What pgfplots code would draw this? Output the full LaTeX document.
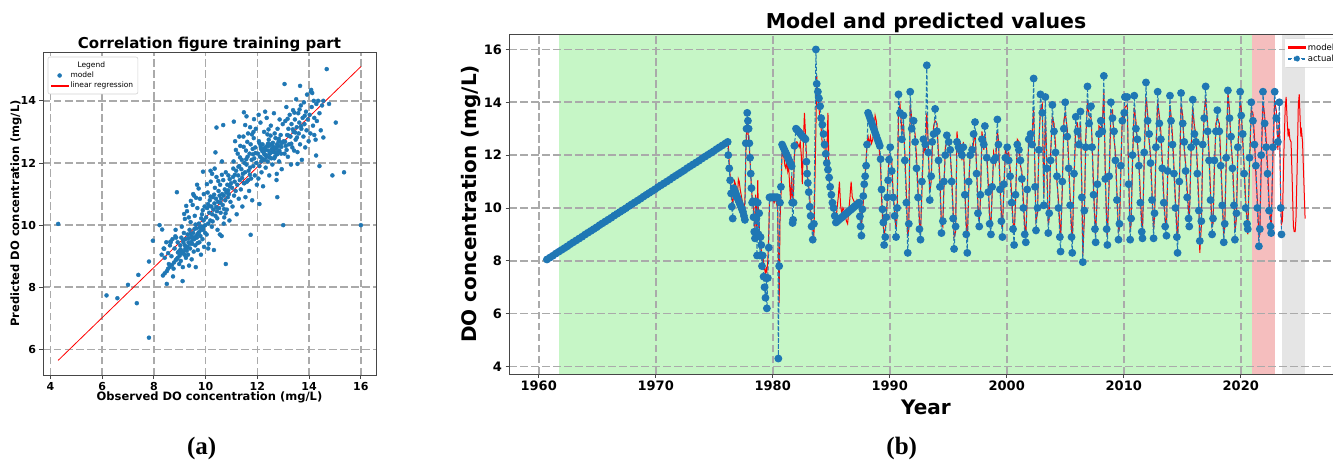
\documentclass[border=0pt]{standalone}
\usepackage{pgfplots}
\pgfplotsset{compat=1.18}
\usepackage{pgfplotstable}
\usepackage{fontspec}
\setmainfont{DejaVu Sans}
\newfontfamily\capfont{Liberation Serif}
\definecolor{mplblue}{RGB}{31,119,180}
\definecolor{mplred}{RGB}{255,0,0}
\definecolor{gridgray}{RGB}{170,170,170}
\definecolor{spangreen}{RGB}{198,246,198}
\definecolor{spanred}{RGB}{245,190,190}
\definecolor{spangray}{RGB}{229,229,229}
\definecolor{framegray}{RGB}{70,70,70}
\definecolor{legframe}{RGB}{210,210,210}
\pgfplotsset{
  mpl/.style={
    scale only axis,
    axis line style={framegray, line width=0.8pt},
    tick style={framegray, line width=0.8pt},
    tick align=outside,
    major tick length=3.5pt,
    tick pos=left,
    grid=major,
    major grid style={gridgray, line width=1.7pt, dash pattern=on 7.5pt off 3.5pt},
    /pgf/number format/assume math mode=true,
    /pgf/number format/1000 sep={},
  }
}
\pgfplotstableread{
t a m
1960.70 8.05 8.05
1960.95 8.12 8.12
1961.20 8.19 8.19
1961.45 8.27 8.27
1961.70 8.34 8.34
1961.95 8.41 8.41
1962.20 8.48 8.48
1962.45 8.55 8.55
1962.70 8.63 8.63
1962.95 8.70 8.70
1963.20 8.77 8.77
1963.45 8.84 8.84
1963.70 8.91 8.91
1963.95 8.99 8.99
1964.20 9.06 9.06
1964.45 9.13 9.13
1964.70 9.20 9.20
1964.95 9.27 9.27
1965.20 9.35 9.35
1965.45 9.42 9.42
1965.70 9.49 9.49
1965.95 9.56 9.56
1966.20 9.63 9.63
1966.45 9.71 9.71
1966.70 9.78 9.78
1966.95 9.85 9.85
1967.20 9.92 9.92
1967.45 9.99 9.99
1967.70 10.07 10.07
1967.95 10.14 10.14
1968.20 10.21 10.21
1968.45 10.28 10.28
1968.70 10.35 10.35
1968.95 10.43 10.43
1969.20 10.50 10.50
1969.45 10.57 10.57
1969.70 10.64 10.64
1969.95 10.71 10.71
1970.20 10.79 10.79
1970.45 10.86 10.86
1970.70 10.93 10.93
1970.95 11.00 11.00
1971.20 11.07 11.07
1971.45 11.15 11.15
1971.70 11.22 11.22
1971.95 11.29 11.29
1972.20 11.36 11.36
1972.45 11.43 11.43
1972.70 11.51 11.51
1972.95 11.58 11.58
1973.20 11.65 11.65
1973.45 11.72 11.72
1973.70 11.79 11.79
1973.95 11.87 11.87
1974.20 11.94 11.94
1974.45 12.01 12.01
1974.70 12.08 12.08
1974.95 12.15 12.15
1975.20 12.23 12.23
1975.45 12.30 12.30
1975.70 12.37 12.37
1975.95 12.44 12.44
1976.15 12.50 12.50
1976.20 12.00 12.40
1976.28 11.50 11.70
1976.36 11.05 11.20
1976.44 10.55 10.80
1976.50 10.05 10.40
1976.58 9.60 10.10
1976.66 10.75 10.50
1976.74 10.66 11.00
1976.82 10.57 10.90
1976.90 10.48 10.60
1976.98 10.39 10.30
1977.06 10.30 11.10
1977.14 10.21 11.00
1977.22 10.12 10.70
1977.30 10.03 10.50
1977.38 9.94 10.30
1977.46 9.85 10.10
1977.54 9.70 10.00
1977.62 9.55 10.20
1977.70 12.45 12.00
1977.76 13.00 12.80
1977.82 13.60 13.20
1977.88 13.30 12.90
1977.94 13.00 12.60
1978.00 12.45 12.30
1978.06 11.90 11.80
1978.12 11.30 11.30
1978.18 10.75 10.80
1978.24 10.20 10.40
1978.30 10.25 10.30
1978.36 9.65 10.00
1978.42 9.10 9.60
1978.48 8.85 9.20
1978.54 10.25 10.50
1978.60 9.60 9.90
1978.66 8.20 8.80
1978.72 10.20 11.05
1978.78 9.00 9.60
1978.84 9.80 9.40
1978.90 8.20 8.60
1978.96 8.90 9.10
1979.02 8.60 8.40
1979.08 7.80 8.00
1979.14 8.20 8.30
1979.22 7.40 7.90
1979.30 7.00 7.70
1979.38 6.60 7.50
1979.44 7.35 7.70
1979.50 6.20 7.60
1979.58 7.35 8.00
1979.66 8.50 9.00
1979.72 10.40 10.20
1979.80 10.40 10.30
1979.88 10.40 10.30
1979.96 10.40 10.40
1980.04 10.40 10.30
1980.12 10.40 10.20
1980.20 10.40 10.30
1980.28 10.40 10.30
1980.36 10.40 10.10
1980.42 10.40 10.20
1980.48 4.30 8.00
1980.55 7.80 6.40
1980.62 10.20 9.50
1980.70 10.80 10.40
1980.80 12.40 12.20
1980.88 12.32 12.00
1980.96 12.24 11.90
1981.04 12.16 11.60
1981.12 12.08 11.50
1981.20 12.00 11.80
1981.28 11.92 11.40
1981.36 11.84 11.60
1981.44 11.76 10.90
1981.52 11.68 10.30
1981.62 11.58 11.20
1981.66 10.20 10.40
1981.70 9.43 10.70
1981.74 9.55 10.30
1981.78 10.20 10.90
1981.85 12.35 12.00
1981.99 13.00 12.50
1982.08 12.96 12.50
1982.17 12.91 12.40
1982.26 12.87 12.30
1982.35 12.82 12.50
1982.44 12.77 12.00
1982.53 12.72 10.90
1982.62 12.68 12.50
1982.71 12.64 13.60
1982.80 12.60 12.80
1982.88 11.75 12.00
1982.94 11.30 11.50
1983.00 10.95 11.10
1983.08 10.60 10.80
1983.16 10.05 10.40
1983.24 9.70 9.90
1983.32 9.30 9.60
1983.42 8.80 9.20
1983.52 9.40 8.90
1983.69 16.00 13.00
1983.76 14.70 15.00
1983.86 14.40 14.20
1983.95 14.15 13.80
1984.05 13.85 13.30
1984.14 13.40 13.00
1984.24 13.15 12.40
1984.34 12.80 12.30
1984.43 12.40 12.60
1984.53 12.05 11.70
1984.62 11.70 12.00
1984.72 11.45 13.60
1984.82 11.15 11.00
1984.91 10.80 10.90
1985.01 10.50 10.40
1985.10 10.20 10.00
1985.20 10.00 9.90
1985.30 9.70 9.60
1985.40 9.45 9.50
1985.50 9.49 10.00
1985.60 9.53 10.40
1985.70 9.57 11.00
1985.80 9.61 10.10
1985.90 9.64 9.80
1986.00 9.68 10.00
1986.10 9.72 9.90
1986.20 9.76 9.70
1986.30 9.79 9.50
1986.40 9.83 9.40
1986.50 9.87 9.90
1986.60 9.91 10.40
1986.70 9.94 11.00
1986.80 9.98 10.40
1986.90 10.02 10.30
1987.00 10.06 10.20
1987.10 10.09 10.10
1987.20 10.13 10.30
1987.30 10.17 10.20
1987.39 10.20 10.00
1987.45 9.68 9.90
1987.51 9.30 9.60
1987.58 8.95 9.30
1987.66 9.95 9.80
1987.74 10.45 10.20
1987.82 10.90 10.90
1987.90 11.20 11.30
1987.98 11.60 11.80
1988.06 12.40 12.50
1988.15 13.60 12.70
1988.25 13.48 12.40
1988.35 13.35 12.70
1988.45 13.23 12.45
1988.55 13.10 12.60
1988.65 12.98 13.00
1988.75 12.85 13.50
1988.85 12.73 13.30
1988.95 12.60 12.80
1989.05 12.48 12.40
1989.15 12.35 12.00
1989.22 11.85 11.50
1989.30 10.70 10.40
1989.38 9.95 9.60
1989.45 9.45 9.30
1989.52 8.60 9.00
1989.62 8.90 9.20
1989.70 9.65 9.50
1989.78 10.40 10.20
1989.86 11.05 11.30
1989.94 11.83 12.00
1990.04 12.30 12.00
1990.17 11.40 11.80
1990.29 10.40 10.60
1990.42 9.70 9.90
1990.54 8.90 9.20
1990.63 10.00 9.70
1990.75 14.30 13.60
1990.88 13.60 13.90
1991.04 12.60 12.90
1991.17 13.50 13.20
1991.29 11.80 12.10
1991.42 10.20 10.60
1991.54 8.30 8.90
1991.63 9.40 9.20
1991.75 14.40 13.90
1991.88 13.00 13.40
1992.04 13.30 13.10
1992.17 12.50 12.80
1992.29 11.50 11.90
1992.42 10.40 10.70
1992.54 9.20 9.50
1992.63 8.80 9.00
1992.75 11.00 10.60
1992.88 12.60 12.30
1993.04 12.40 12.10
1993.17 15.40 13.60
1993.29 12.10 12.40
1993.42 10.30 10.60
1993.54 11.20 11.00
1993.63 12.50 12.20
1993.75 12.80 13.10
1993.88 13.75 13.30
1994.04 12.90 13.20
1994.17 11.80 12.00
1994.29 10.80 11.10
1994.42 9.05 9.40
1994.54 9.50 9.30
1994.63 11.00 10.70
1994.75 12.00 12.30
1994.88 12.75 12.50
1995.04 12.50 12.70
1995.17 12.20 12.00
1995.29 11.00 11.30
1995.42 9.60 9.90
1995.50 8.45 8.90
1995.63 9.30 9.10
1995.75 12.50 12.90
1995.88 12.30 12.10
1996.04 12.20 12.40
1996.17 12.00 11.80
1996.29 12.30 12.50
1996.42 10.50 10.80
1996.54 9.00 9.40
1996.63 8.30 8.80
1996.75 11.00 10.60
1996.88 12.00 12.30
1997.04 12.20 12.00
1997.17 12.80 12.50
1997.29 13.25 12.90
1997.42 11.30 11.60
1997.54 9.80 10.10
1997.65 9.30 9.50
1997.75 10.50 10.20
1997.88 12.60 12.90
1998.04 12.40 12.20
1998.13 13.10 12.80
1998.29 11.90 12.20
1998.42 10.60 10.90
1998.54 9.40 9.70
1998.65 9.00 9.30
1998.75 10.80 10.50
1998.88 11.80 12.10
1999.04 11.90 11.70
1999.20 13.35 12.90
1999.29 12.40 12.60
1999.42 10.70 11.00
1999.54 9.50 9.80
1999.63 8.90 9.20
1999.75 10.90 10.60
1999.88 11.90 12.20
2000.04 12.30 12.00
2000.17 11.80 12.10
2000.29 11.20 11.50
2000.42 10.20 10.50
2000.54 9.20 9.50
2000.63 8.60 9.00
2000.75 10.50 10.20
2000.90 12.40 12.60
2001.04 12.20 12.50
2001.17 11.80 11.60
2001.29 11.10 11.40
2001.42 10.00 10.30
2001.54 9.00 9.30
2001.63 8.70 8.90
2001.75 10.70 10.40
2001.88 12.60 12.90
2002.04 12.80 12.50
2002.17 12.40 12.80
2002.30 14.90 13.80
2002.42 10.80 11.20
2002.50 9.15 9.50
2002.63 10.00 9.80
2002.75 12.20 12.50
2002.88 14.30 13.70
2003.04 13.60 13.90
2003.17 10.10 10.40
2003.30 14.20 13.50
2003.42 11.50 11.90
2003.55 9.05 9.40
2003.63 9.80 9.60
2003.75 11.80 12.10
2003.90 13.90 13.40
2004.04 12.90 13.20
2004.17 12.10 12.40
2004.29 11.20 11.00
2004.42 10.00 10.30
2004.54 8.90 9.30
2004.60 8.35 8.80
2004.75 11.00 10.70
2004.88 13.00 13.30
2005.00 14.00 13.60
2005.17 12.70 13.00
2005.29 11.50 11.80
2005.42 10.10 10.40
2005.54 8.90 9.20
2005.60 8.30 8.70
2005.75 11.30 11.00
2005.90 13.45 13.10
2006.04 12.90 13.20
2006.17 12.40 12.60
2006.30 13.65 13.20
2006.42 10.40 10.80
2006.50 7.95 8.20
2006.63 9.90 9.60
2006.75 12.30 12.60
2006.90 14.60 14.00
2007.04 13.20 13.50
2007.20 13.85 13.40
2007.29 12.30 12.60
2007.42 10.50 10.80
2007.54 9.20 9.50
2007.60 8.70 9.00
2007.75 10.90 10.60
2007.88 12.80 13.10
2008.04 13.30 13.00
2008.17 12.90 13.20
2008.30 15.00 14.40
2008.42 11.10 11.40
2008.54 9.20 9.50
2008.60 8.60 8.90
2008.75 11.20 10.90
2008.90 14.00 13.60
2009.04 13.40 13.70
2009.17 12.90 12.60
2009.29 11.80 12.10
2009.42 10.30 10.60
2009.55 8.80 9.10
2009.63 9.40 9.20
2009.75 11.60 11.30
2009.88 13.30 13.60
2010.04 13.60 13.30
2010.10 14.20 13.80
2010.30 14.20 13.90
2010.42 10.90 11.20
2010.55 8.80 9.10
2010.63 9.60 9.40
2010.75 12.00 11.70
2010.90 14.25 13.80
2011.04 13.00 13.30
2011.17 12.60 12.40
2011.29 11.60 11.90
2011.42 10.20 10.50
2011.54 9.10 9.40
2011.60 8.85 9.10
2011.75 12.10 11.80
2011.90 14.75 14.20
2012.04 13.30 13.60
2012.17 12.80 12.50
2012.29 11.70 12.00
2012.42 10.30 10.60
2012.55 8.85 9.20
2012.63 9.80 9.60
2012.75 12.30 12.00
2012.90 14.40 14.00
2013.04 13.20 13.50
2013.17 12.60 12.90
2013.29 11.50 11.80
2013.42 10.20 10.50
2013.54 9.30 9.60
2013.65 8.95 9.20
2013.75 11.40 11.10
2013.95 14.25 13.90
2014.04 13.30 13.50
2014.17 12.40 12.70
2014.29 11.30 11.60
2014.42 10.00 10.30
2014.54 8.90 9.20
2014.60 8.30 8.80
2014.75 11.00 10.70
2014.90 14.35 13.90
2015.04 13.20 13.50
2015.17 12.50 12.20
2015.29 11.40 11.70
2015.42 10.40 10.70
2015.54 9.60 9.90
2015.60 9.30 9.50
2015.75 12.30 12.00
2015.90 14.10 13.80
2016.04 12.80 13.10
2016.17 12.50 12.80
2016.29 11.30 11.60
2016.42 9.90 10.20
2016.50 8.75 8.30
2016.63 9.50 9.30
2016.75 12.40 12.10
2016.88 13.40 13.70
2017.00 14.60 14.10
2017.17 12.90 13.20
2017.29 11.80 12.10
2017.42 10.30 10.60
2017.55 9.00 9.30
2017.63 9.60 9.40
2017.75 11.80 11.50
2017.88 12.90 13.20
2018.00 13.70 13.40
2018.17 12.90 13.20
2018.29 11.60 11.90
2018.42 10.10 10.40
2018.55 8.70 9.00
2018.63 9.40 9.20
2018.75 11.90 11.60
2018.90 14.45 14.40
2019.04 13.40 13.70
2019.17 12.70 12.40
2019.29 11.50 11.80
2019.42 10.10 10.40
2019.50 8.80 9.10
2019.63 9.80 9.60
2019.75 12.30 12.00
2019.95 14.40 14.00
2020.04 13.50 13.80
2020.17 12.80 12.50
2020.29 11.30 11.60
2020.42 10.00 10.30
2020.54 9.40 9.60
2020.60 9.20 9.00
2020.75 11.90 11.60
2020.90 14.00 13.70
2021.04 13.30 13.60
2021.17 12.40 12.70
2021.29 11.60 11.30
2021.42 10.00 10.30
2021.55 8.55 8.90
2021.63 9.20 9.00
2021.75 12.00 11.70
2021.90 14.40 14.00
2022.04 13.20 13.50
2022.17 12.30 12.60
2022.29 11.30 11.60
2022.42 9.90 10.20
2022.54 9.30 9.60
2022.60 9.05 9.20
2022.75 12.30 12.00
2022.90 14.40 14.00
2023.04 13.40 13.70
2023.17 12.50 12.20
2023.30 14.00 13.30
2023.42 10.00 10.30
2023.48 9.00 9.40
2023.56 nan 9.50
2023.68 nan 12.00
2023.80 nan 13.80
2023.88 nan 14.20
2023.98 nan 13.20
2024.05 nan 12.70
2024.12 nan 13.00
2024.20 nan 12.60
2024.30 nan 12.50
2024.40 nan 11.00
2024.50 nan 9.30
2024.57 nan 9.10
2024.65 nan 9.10
2024.72 nan 9.60
2024.82 nan 11.50
2024.92 nan 13.90
2025.00 nan 14.30
2025.08 nan 13.30
2025.14 nan 12.70
2025.20 nan 12.90
2025.28 nan 12.50
2025.38 nan 11.20
2025.50 nan 9.60
}\tsdata
\begin{document}
\begin{tikzpicture}
% ---------------- panel (a)
\begin{axis}[mpl, at={(43pt,86pt)}, anchor=south west, width=333pt, height=323pt,
  xmin=3.715, xmax=16.585, ymin=5.18, ymax=15.57,
  xtick={4,6,...,16}, ytick={6,8,...,14},
  ticklabel style={font=\bfseries\fontsize{11}{12}\selectfont},
  title={Correlation figure training part},
  title style={font=\bfseries\fontsize{15}{17}\selectfont, at={([yshift=2pt]axis description cs:0.5,1)}, anchor=center},
  xlabel={Observed DO concentration (mg/L)},
  ylabel={Predicted DO concentration (mg/L)},
  label style={font=\bfseries\fontsize{11.5}{13}\selectfont},
  xlabel style={at={([yshift=-22pt]axis description cs:0.5,0)}, anchor=center},
  ylabel style={at={([xshift=-27pt]axis description cs:0,0.5)}, anchor=center},
  legend style={name=legA, at={(axis description cs:0,1)}, anchor=north west, xshift=5pt, yshift=-5pt,
    font=\fontsize{7.5}{9}\selectfont, draw=none, fill=white, inner sep=2.5pt, row sep=-1pt},
  legend cell align=left,
]
\addlegendimage{empty legend}\addlegendentry{\hspace*{7pt}Legend}
\addplot[only marks, mark=*, mark size=2pt, color=mplblue, mark options={draw=mplblue, fill=mplblue}] coordinates {
(8.35,8.38) (8.42,8.45) (8.50,8.52) (8.55,8.60) (8.62,8.66) (8.70,8.72) (8.78,8.80) (8.85,8.88)
(8.92,8.95) (9.00,9.02) (9.08,9.10) (9.15,9.16) (9.22,9.25) (9.30,9.30) (9.38,9.40) (9.45,9.46)
(9.52,9.55) (9.60,9.62) (9.68,9.70) (9.75,9.78) (9.82,9.85) (9.90,9.92) (9.98,10.00)
(8.30,9.05) (8.38,9.25) (8.42,8.95) (8.48,9.45) (8.55,9.10) (8.58,8.75) (8.62,9.35) (8.68,9.00)
(8.72,9.55) (8.76,8.60) (8.80,9.25) (8.84,9.85) (8.88,8.90) (8.92,9.45) (8.96,9.15) (8.98,8.75)
(8.65,9.45) (8.86,9.60)
(9.02,9.35) (9.04,8.85) (9.06,9.60) (9.08,9.95) (9.10,9.15) (9.12,8.65) (9.14,9.45) (9.16,9.75)
(9.18,9.05) (9.20,10.20) (9.22,9.55) (9.24,8.95) (9.26,9.30) (9.28,10.45) (9.30,9.70) (9.32,9.05)
(9.34,9.45) (9.36,8.70) (9.38,9.85) (9.40,9.25) (9.42,10.10) (9.44,9.60) (9.46,8.90) (9.48,9.40)
(9.50,10.65) (9.52,9.75) (9.54,9.15) (9.56,9.55) (9.58,10.30) (9.60,9.35) (9.62,8.65) (9.64,9.90)
(9.66,9.60) (9.68,10.55) (9.70,9.20) (9.72,9.75) (9.74,10.05) (9.76,9.45) (9.78,10.85) (9.80,9.65)
(9.82,9.05) (9.84,9.95) (9.86,10.35) (9.88,9.55) (9.90,9.85) (9.92,10.15) (9.94,9.30) (9.96,10.60)
(9.98,9.75) (9.93,11.00) (9.55,10.95) (9.35,10.25)
(9.13,9.52) (9.27,9.18) (9.41,9.72) (9.57,9.88) (9.69,9.42) (9.83,10.22) (9.47,9.63) (9.33,9.58)
(9.61,10.02) (9.77,9.92) (9.89,10.48) (9.19,9.36) (9.03,9.22) (8.93,9.12) (9.25,10.62) (9.43,10.78)
(9.63,10.88) (9.73,11.18)
(10.02,10.25) (10.04,9.70) (10.06,10.55) (10.08,11.05) (10.10,10.05) (10.12,9.40) (10.14,10.40) (10.16,10.80)
(10.18,10.15) (10.20,11.40) (10.22,10.60) (10.24,9.95) (10.26,10.35) (10.28,10.90) (10.30,10.50) (10.32,9.20)
(10.34,10.70) (10.36,11.20) (10.38,10.30) (10.40,10.85) (10.42,11.55) (10.44,10.45) (10.46,9.85) (10.48,10.75)
(10.50,11.10) (10.52,10.55) (10.54,10.95) (10.56,11.30) (10.58,10.40) (10.60,10.85) (10.62,9.65) (10.64,11.00)
(10.66,10.65) (10.68,11.45) (10.70,10.95) (10.72,10.25) (10.74,11.15) (10.76,10.80) (10.78,11.70) (10.80,11.05)
(10.82,10.50) (10.84,11.30) (10.86,10.90) (10.88,11.60) (10.90,11.00) (10.92,10.15) (10.94,11.25) (10.96,10.75)
(10.98,11.35) (10.10,9.25) (10.25,11.65) (10.55,9.70) (10.70,10.05)
(10.13,10.62) (10.27,10.12) (10.41,10.58) (10.57,10.72) (10.71,10.52) (10.87,11.12) (10.33,10.98) (10.49,11.42)
(10.63,11.62) (10.19,10.92) (10.09,10.68) (10.45,10.22) (10.77,10.38) (10.93,11.48) (10.05,11.32) (10.35,11.82)
(10.63,12.05)
(11.02,11.20) (11.04,10.60) (11.06,11.55) (11.08,12.05) (11.10,10.95) (11.12,11.40) (11.14,12.70) (11.16,11.10)
(11.18,11.75) (11.20,10.35) (11.22,11.30) (11.24,12.30) (11.26,11.60) (11.28,10.85) (11.30,11.90) (11.32,11.45)
(11.34,12.55) (11.36,11.15) (11.38,11.80) (11.40,12.10) (11.42,10.60) (11.44,11.65) (11.46,12.85) (11.48,11.35)
(11.50,12.00) (11.52,11.70) (11.54,10.90) (11.56,12.40) (11.58,11.95) (11.60,11.40) (11.62,12.20) (11.64,12.95)
(11.66,11.75) (11.68,11.10) (11.70,12.30) (11.72,11.85) (11.74,12.60) (11.76,11.50) (11.78,12.10) (11.80,10.80)
(11.82,12.45) (11.84,11.90) (11.86,12.80) (11.88,12.15) (11.90,11.60) (11.92,12.50) (11.94,13.10) (11.96,12.00)
(11.98,11.30) (11.50,11.35) (11.65,11.45) (11.30,12.85) (11.85,13.00)
(11.13,11.62) (11.27,11.88) (11.41,11.52) (11.57,12.12) (11.71,11.62) (11.83,12.28) (11.33,12.18) (11.47,12.52)
(11.61,12.68) (11.79,12.92) (11.93,12.32) (11.17,12.42) (11.07,11.82) (11.53,13.22) (11.72,13.15)
(12.02,12.30) (12.04,11.50) (12.06,12.70) (12.08,11.90) (12.10,12.20) (12.12,13.30) (12.14,12.45) (12.16,11.70)
(12.18,12.15) (12.20,12.60) (12.22,11.25) (12.24,12.35) (12.26,13.00) (12.28,12.10) (12.30,12.50) (12.32,11.85)
(12.34,12.25) (12.36,13.45) (12.38,12.55) (12.40,12.05) (12.42,12.40) (12.44,12.75) (12.46,11.60) (12.48,12.30)
(12.50,12.60) (12.52,13.20) (12.54,12.15) (12.56,12.45) (12.58,11.95) (12.60,12.65) (12.62,12.35) (12.64,13.60)
(12.66,12.50) (12.68,12.20) (12.70,12.80) (12.72,12.45) (12.74,11.45) (12.76,12.60) (12.78,13.10) (12.80,12.35)
(12.82,12.70) (12.84,12.05) (12.86,13.40) (12.88,12.55) (12.90,12.90) (12.92,12.30) (12.94,11.80) (12.96,12.65)
(12.98,13.25) (12.25,12.45) (12.35,12.20) (12.45,12.55) (12.55,12.35) (12.65,12.15) (12.75,12.50) (12.15,12.05)
(12.85,12.40) (12.05,13.55) (12.30,13.65)
(12.13,12.52) (12.27,12.28) (12.41,12.62) (12.57,12.58) (12.71,12.32) (12.87,12.68) (12.33,12.42) (12.47,12.18)
(12.61,12.48) (12.77,12.28) (12.93,12.52) (12.19,12.38) (12.09,12.62) (12.51,12.88) (12.39,12.92) (12.67,12.95)
(12.83,12.78) (12.43,13.08)
(13.02,12.70) (13.05,12.30) (13.08,13.35) (13.10,12.55) (13.12,13.80) (13.15,12.90) (13.18,12.20) (13.20,13.10)
(13.22,12.60) (13.25,13.55) (13.28,12.85) (13.30,11.95) (13.32,13.25) (13.35,12.50) (13.38,13.70) (13.40,13.00)
(13.42,12.40) (13.45,13.40) (13.48,12.75) (13.50,14.05) (13.52,13.15) (13.55,12.35) (13.58,13.60) (13.60,12.95)
(13.62,13.30) (13.65,12.60) (13.68,13.85) (13.70,13.10) (13.72,12.10) (13.75,13.45) (13.78,12.85) (13.80,13.95)
(13.82,13.25) (13.85,12.50) (13.88,13.65) (13.90,13.05) (13.92,14.20) (13.95,13.40) (13.98,12.70)
(13.07,12.68) (13.21,12.88) (13.37,13.08) (13.53,12.82) (13.69,13.18) (13.83,13.52) (13.17,13.42) (13.43,13.62)
(13.63,13.72) (13.13,12.42) (13.31,12.62) (13.47,12.98)
(14.02,13.55) (14.05,12.95) (14.08,14.35) (14.10,13.80) (14.15,13.20) (14.18,14.00) (14.20,13.45) (14.25,12.75)
(14.28,13.90) (14.30,13.35) (14.35,14.00) (14.40,13.60) (14.45,13.05) (14.50,13.85) (14.55,14.00)
(4.30,10.04) (6.17,7.74) (6.59,7.65) (7.00,8.08) (7.34,7.49) (7.40,8.40) (7.81,8.83) (7.81,6.38)
(7.96,9.50) (8.22,10.00) (8.32,9.86) (8.50,8.11) (8.74,8.35) (8.89,11.06) (9.11,8.20) (10.78,8.75)
(11.74,9.69) (13.00,10.00) (16.00,10.00) (15.35,11.70) (14.90,11.60) (14.68,15.02) (13.05,14.54) (15.03,13.30)
(14.77,13.90) (14.40,11.90) (14.27,12.24) (14.20,12.90) (14.55,12.82) (13.65,14.48) (14.07,14.30) (14.12,14.25)
(13.55,11.97) (12.75,11.65) (12.77,10.90) (12.08,10.68) (10.42,13.14) (10.68,13.22) (11.09,13.33) (11.48,13.63)
(11.58,13.50) (11.87,13.41) (10.38,12.34) (9.90,11.72) (10.19,11.75) (9.67,11.30) (9.52,11.00) (9.17,10.36)
(8.83,9.64) (8.64,9.47) (8.40,9.24)
};
\addlegendentry{model}
\addplot[color=mplred, line width=0.8pt,
  legend image code/.code={\fill[mplred] (0cm,-0.45pt) rectangle (0.6cm,0.45pt);}]
  coordinates {(4.3,5.65) (16,15.1)};
\addlegendentry{linear regression}
\end{axis}
\draw[legframe, line width=0.6pt, rounded corners=2pt] (legA.south west) rectangle (legA.north east);
% ---------------- panel (b)
\begin{axis}[mpl, set layers, at={(509pt,87pt)}, anchor=south west, width=834pt, height=340pt,
  xmin=1957.46, xmax=2028.74, ymin=3.715, ymax=16.585,
  xtick={1960,1970,...,2020}, ytick={4,6,...,16},
  ticklabel style={font=\bfseries\fontsize{13}{14}\selectfont},
  title={Model and predicted values},
  title style={font=\bfseries\fontsize{20.5}{22}\selectfont, at={([yshift=5pt]axis description cs:0.5,1)}, anchor=center},
  xlabel={Year}, ylabel={DO concentration (mg/L)},
  label style={font=\bfseries\fontsize{20}{22}\selectfont},
  xlabel style={at={([yshift=-33pt]axis description cs:0.5,0)}, anchor=center},
  ylabel style={at={([xshift=-38pt]axis description cs:0,0.5)}, anchor=center},
  legend style={name=legB, at={(axis description cs:1,1)}, anchor=north east, xshift=-4pt, yshift=-5pt,
    font=\fontsize{8.5}{10}\selectfont, draw=none, fill=white, inner sep=2.5pt, row sep=-1pt},
  legend cell align=left,
  unbounded coords=discard,
]
\addplot[fill=spangreen, draw=none, on layer=axis background, forget plot] coordinates {(1961.77,3.715) (1961.77,16.585) (2021.0,16.585) (2021.0,3.715)};
\addplot[fill=spanred, draw=none, on layer=axis background, forget plot] coordinates {(2021.0,3.715) (2021.0,16.585) (2022.9,16.585) (2022.9,3.715)};
\addplot[fill=spangray, draw=none, on layer=axis background, forget plot] coordinates {(2023.5,3.715) (2023.5,16.585) (2025.5,16.585) (2025.5,3.715)};
\addplot[color=mplred, line width=1pt, no marks,
  legend image code/.code={\fill[mplred] (0cm,-0.7pt) rectangle (0.6cm,0.7pt);}]
  table[x=t, y=m] {\tsdata};
\addlegendentry{model}
\addplot[mplblue, line width=1pt, dash pattern=on 4pt off 2pt, mark=*, mark size=3.4pt, mark options={solid, draw=mplblue, fill=mplblue},
  legend image code/.code={
    \fill[mplblue] (0cm,-0.55pt) rectangle (0.12cm,0.55pt);
    \fill[mplblue] (0.48cm,-0.55pt) rectangle (0.6cm,0.55pt);
    \fill[mplblue] (0.3cm,0cm) circle (2.6pt);}]
  table[x=t, y=a] {\tsdata};
\addlegendentry{actual}
\end{axis}
\draw[legframe, line width=0.6pt, rounded corners=2pt] (legB.south west) rectangle (legB.north east);
\node[font=\capfont\bfseries\fontsize{25}{28}\selectfont] at (201.7pt,13pt) {(a)};
\node[font=\capfont\bfseries\fontsize{25}{28}\selectfont] at (901.7pt,13pt) {(b)};
\pgfresetboundingbox
\useasboundingbox (0,0) rectangle (1333pt,461pt);
\end{tikzpicture}
\end{document}
